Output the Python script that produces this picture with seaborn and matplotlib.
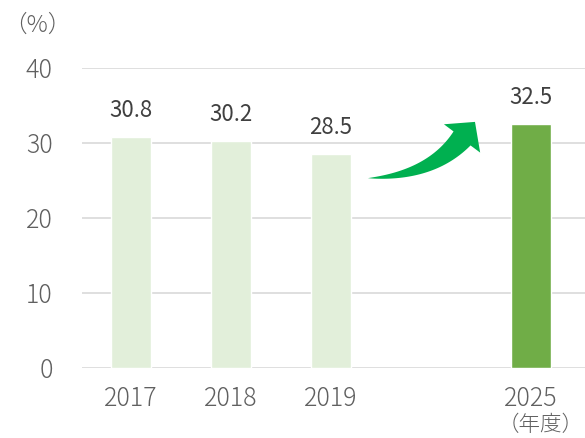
import matplotlib
matplotlib.use("Agg")
import matplotlib.pyplot as plt
from matplotlib.patches import Polygon
from matplotlib.transforms import IdentityTransform
import numpy as np
import seaborn as sns
import pandas as pd

years = ["2017", "2018", "2019", "2025"]
ratios = [30.8, 30.2, 28.5, 32.5]
slot_order = ["2017", "2018", "2019", " ", "2025"]
bar_colors = {"2017": "#E2EFDA", "2018": "#E2EFDA", "2019": "#E2EFDA", "2025": "#70AD47"}
y_ticks = [0, 10, 20, 30, 40]

sns.set_theme(style="white")
plt.rcParams["font.family"] = ["Noto Sans CJK JP", "DejaVu Sans"]

df = pd.DataFrame({"year": years, "ratio": ratios})

fig = plt.figure(figsize=(5.85, 4.38), dpi=100)
ax = fig.add_axes([0.140, 0.160, 0.860, 0.685])

sns.barplot(data=df, x="year", y="ratio", hue="year", order=slot_order,
            hue_order=years, palette=bar_colors, width=0.4, dodge=False,
            legend=False, ax=ax, saturation=1)

ax.set_ylim(0, 40)
ax.set_xlim(-0.49, 4.54)
ax.set_yticks(y_ticks)
ax.set_xlabel("")
ax.set_ylabel("")
ax.grid(axis="y", color="#D9D9D9", linewidth=1.2)
ax.set_axisbelow(True)
for s in ax.spines.values():
    s.set_visible(False)
ax.tick_params(axis="both", length=0, labelsize=18, labelcolor="#606060")
ax.tick_params(axis="x", pad=13)
ax.tick_params(axis="y", pad=21)
for lbl in ax.get_xticklabels() + ax.get_yticklabels():
    lbl.set_fontweight("light")

for cont in ax.containers:
    ax.bar_label(cont, fmt="%.1f", padding=11, fontsize=16, color="#404040")


def curved_block_arrow(ax, start, tip, body_width=22, head_len=21, head_half=23,
                       head_dir=(0.616, 0.788), color="#00B050"):
    """Curved arrow whose body widens from a sharp tail to a triangular head."""
    tail = ax.transData.transform(start)
    tip_px = ax.transData.transform(tip)
    d = np.asarray(head_dir, float)
    d /= np.linalg.norm(d)
    n = np.array([-d[1], d[0]])
    base = tip_px - head_len * d
    # control point: horizontal from the tail meets the head axis
    t_ctrl = (tail[1] - base[1]) / d[1]
    ctrl = base + t_ctrl * d
    ctrl[1] = tail[1] + 2
    t = np.linspace(0, 1, 60)[:, None]
    pts = (1 - t) ** 2 * tail + 2 * (1 - t) * t * ctrl + t ** 2 * base
    tan = 2 * (1 - t) * (ctrl - tail) + 2 * t * (base - ctrl)
    tan /= np.linalg.norm(tan, axis=1, keepdims=True)
    nrm = np.column_stack([-tan[:, 1], tan[:, 0]])
    w = body_width / 2 * t[:, 0] ** 0.9
    upper = pts + w[:, None] * nrm
    lower = pts - w[:, None] * nrm
    verts = np.vstack([upper, [base + head_half * n, tip_px, base - head_half * n],
                       lower[::-1]])
    poly = Polygon(verts, closed=True, facecolor=color, edgecolor="none",
                   transform=IdentityTransform())
    fig.add_artist(poly)


curved_block_arrow(ax, (2.37, 25.3), (3.44, 32.8))

fig.text(0.006, 0.942, "（%）", fontsize=17, color="#606060", va="center",
         fontweight="light")
fig.text(0.998, 0.030, "（年度）", fontsize=15.5, color="#606060", ha="right",
         va="center", fontweight="light")

fig.savefig("out.png", dpi=100)
